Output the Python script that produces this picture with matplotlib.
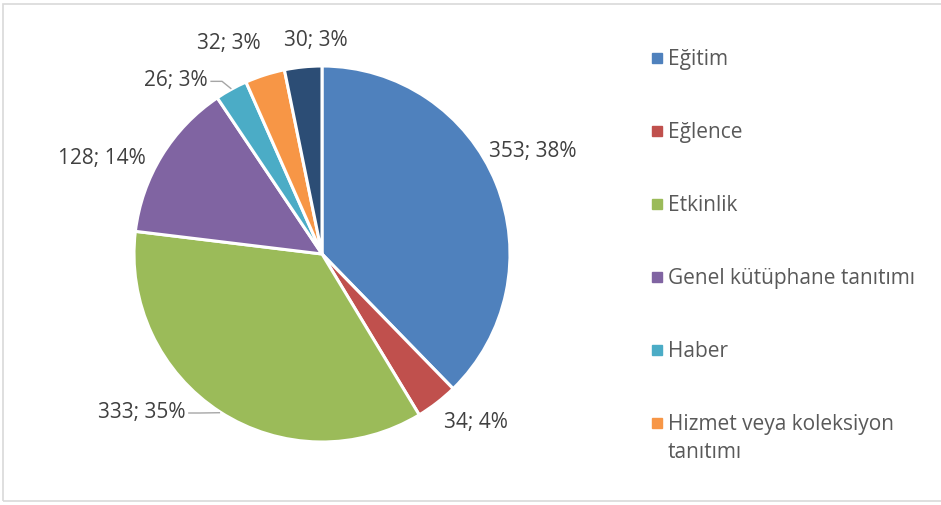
import numpy as np
import matplotlib.pyplot as plt
from matplotlib.patches import Rectangle

# data
categories = ['Eğitim', 'Eğlence', 'Etkinlik', 'Genel kütüphane tanıtımı',
              'Haber', 'Hizmet veya koleksiyon\ntanıtımı', 'Diğer']
counts = [353, 34, 333, 128, 26, 32, 30]
percents = [38, 4, 35, 14, 3, 3, 3]
colors = ['#4F81BD', '#C0504D', '#9BBB59', '#8064A2', '#4BACC6', '#F79646', '#2C4D75']

W, H = 941, 506
plt.rcParams['font.family'] = ['Open Sans', 'DejaVu Sans']
fig = plt.figure(figsize=(W / 100, H / 100), dpi=100)
ax = fig.add_axes([0, 0, 1, 1])

cx, cy, r = 322, H - 255, 188
wedges, _ = ax.pie(counts, colors=colors, startangle=90, counterclock=False,
                   center=(cx, cy), radius=r, frame=True,
                   wedgeprops=dict(edgecolor='white', linewidth=2.2))
ax.set_xlim(0, W)
ax.set_ylim(0, H)
ax.axis('off')

# chart frame
ax.add_patch(Rectangle((3, 4), W + 5, H - 9, fill=False, ec='#d9d9d9', lw=1.2))

# label placement: (radius factor, angle tweak in deg)
place = [(1.25, 4), (1.21, 5), (1.27, -16), (1.28, 8),
         (1.21, 11), (1.23, 6), (1.14, -4)]
texts = []
for w, c, p, (f, da) in zip(wedges, counts, percents, place):
    mid = np.deg2rad((w.theta1 + w.theta2) / 2 + da)
    x = cx + f * r * np.cos(mid)
    y = cy + f * r * np.sin(mid)
    t = ax.text(x, y, f'{c}; {p}%', ha='center', va='center',
                fontsize=15, color='#404040')
    texts.append(t)

# leader lines for Etkinlik and Haber
fig.canvas.draw()
inv = ax.transData.inverted()
for i in [2, 4]:
    w = wedges[i]
    mid = np.deg2rad((w.theta1 + w.theta2) / 2)
    ex = cx + (r + 1) * np.cos(mid)
    ey = cy + (r + 1) * np.sin(mid)
    bb = texts[i].get_window_extent()
    (x0, y0), (x1, y1) = inv.transform([(bb.x0, bb.y0), (bb.x1, bb.y1)])
    ly = (y0 + y1) / 2 - 2
    ax.plot([x1 + 3, x1 + 14, ex], [ly, ly, ey], color='#a6a6a6', lw=1)

# legend drawn manually
for i, (name, col) in enumerate(zip(categories[:6], colors[:6])):
    y = H - (59 + i * 73)
    ax.add_patch(Rectangle((652, y - 5), 10, 10, color=col))
    ax.text(668, y + 10, name, ha='left', va='top', fontsize=15,
            color='#595959', linespacing=1.45)

fig.savefig('out.png', dpi=100)
